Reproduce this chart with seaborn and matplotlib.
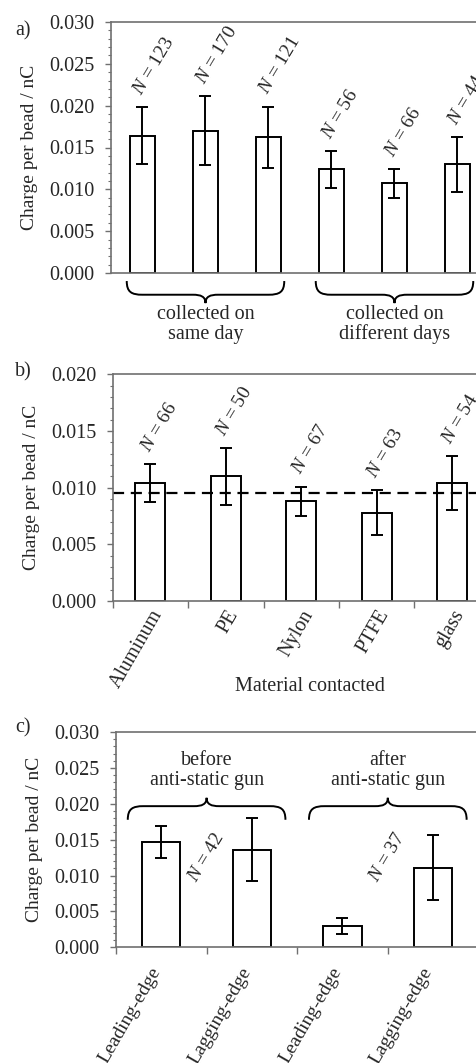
import numpy as np
import pandas as pd
import matplotlib
matplotlib.use("Agg")
import matplotlib.pyplot as plt
import seaborn as sns
from matplotlib.patches import PathPatch
from matplotlib.path import Path
from matplotlib.ticker import MultipleLocator, FormatStrFormatter
import matplotlib.transforms as mtransforms

# panel a
a_n = [123, 170, 121, 56, 66, 44]
a_mean = [0.0164, 0.0170, 0.0162, 0.0124, 0.0107, 0.0130]
a_err = [0.0034, 0.0041, 0.0037, 0.0022, 0.0017, 0.0033]
a_groups = ["collected on\nsame day", "collected on\ndifferent days"]

# panel b
b_materials = ["Aluminum", "PE", "Nylon", "PTFE", "glass"]
b_n = [66, 50, 67, 63, 54]
b_mean = [0.0104, 0.0110, 0.0088, 0.0078, 0.0104]
b_err = [0.0017, 0.0025, 0.0013, 0.0020, 0.0024]
b_ref = 0.0095

# panel c
c_labels = ["Leading-edge", "Lagging-edge", "Leading-edge", "Lagging-edge"]
c_mean = [0.0147, 0.0136, 0.0030, 0.0111]
c_err = [0.0022, 0.0044, 0.0011, 0.0045]
c_n = [42, 37]
c_groups = ["before\nanti-static gun", "after\nanti-static gun"]

sns.set_style("ticks")
plt.rcParams["font.family"] = ["Liberation Serif", "DejaVu Serif"]
plt.rcParams["mathtext.fontset"] = "custom"
plt.rcParams["mathtext.it"] = "Liberation Serif:italic"
plt.rcParams["mathtext.rm"] = "Liberation Serif"

W, H = 477, 1063
fig = plt.figure(figsize=(W / 100, H / 100), dpi=100)

spine_col = "#707070"
FS = 14.5
NFS = 14


def make_axes(left, top, bottom, n, spacing):
    return fig.add_axes([left / W, 1 - bottom / H, n * spacing / W, (bottom - top) / H])


def style(ax, ymax):
    ax.set_ylim(0, ymax)
    ax.yaxis.set_major_locator(MultipleLocator(0.005))
    ax.yaxis.set_minor_locator(MultipleLocator(0.001))
    ax.yaxis.set_major_formatter(FormatStrFormatter("%.3f"))
    ax.spines["right"].set_visible(False)
    for s in ["left", "bottom", "top"]:
        ax.spines[s].set_color(spine_col)
        ax.spines[s].set_linewidth(1.2)
    ax.tick_params(axis="y", which="major", length=4.3, width=1.0, color=spine_col,
                   labelsize=FS, pad=7.5)
    ax.tick_params(axis="y", which="minor", length=2.5, width=0.8, color=spine_col)
    ax.set_ylabel("Charge per bead / nC", fontsize=14, labelpad=8)
    ax.grid(False)


def bars(ax, keys, mean, err, width):
    df = pd.DataFrame({"key": keys, "mean": mean})
    sns.barplot(data=df, x="key", y="mean", color="white", edgecolor="black",
                linewidth=1.4, width=width, errorbar=None, saturation=1, ax=ax)
    ax.errorbar(np.arange(len(mean)), mean, yerr=err, fmt="none", ecolor="black",
                elinewidth=1.4, capsize=4.3, capthick=1.4)
    ax.set_xlabel("")


def n_labels(ax, ns, mean, err):
    for i, (n, m, e) in enumerate(zip(ns, mean, err)):
        ax.annotate(f"$N$ = {n}", xy=(i, m + e), xytext=(-1, 8), textcoords="offset points",
                    rotation=59, rotation_mode="anchor", ha="left", va="baseline",
                    fontsize=NFS, annotation_clip=False)


def brace(ax, x0, x1, y_end, y_tip, transform):
    uv = [(0, 0), (0, 0.5), (0.03, 0.62), (0.1, 0.62), (0.42, 0.62),
          (0.47, 0.62), (0.5, 0.7), (0.5, 1.0), (0.5, 0.7), (0.53, 0.62), (0.58, 0.62),
          (0.9, 0.62), (0.97, 0.62), (1, 0.5), (1, 0)]
    codes = [Path.MOVETO] + [Path.CURVE4] * 3 + [Path.LINETO] + [Path.CURVE4] * 6 + \
            [Path.LINETO] + [Path.CURVE4] * 3
    verts = [(x0 + u * (x1 - x0), y_end + v * (y_tip - y_end)) for u, v in uv]
    ax.add_patch(PathPatch(Path(verts, codes), fill=False, lw=1.4, color="black",
                           transform=transform, clip_on=False))


# ---- a ----
ax_a = make_axes(111, 22, 273, 6, 63)
bars(ax_a, [f"N{n}" for n in a_n], a_mean, a_err, 0.4)
ax_a.set_xlim(-0.5, 5.5)
style(ax_a, 0.030)
ax_a.tick_params(axis="x", bottom=False, labelbottom=False)
n_labels(ax_a, a_n, a_mean, a_err)
trans_a = mtransforms.blended_transform_factory(ax_a.transData, ax_a.transAxes)
for cx, txt in zip([1, 4], a_groups):
    brace(ax_a, cx - 1.25, cx + 1.25, -0.032, -0.12, trans_a)
    ax_a.text(cx, -0.205, txt, transform=trans_a, ha="center", va="center",
              fontsize=FS, linespacing=1.05)

# ---- b ----
ax_b = make_axes(112.7, 374.3, 601, 5, 75.4)
bars(ax_b, b_materials, b_mean, b_err, 0.4)
ax_b.set_xlim(-0.5, 4.5)
style(ax_b, 0.020)
ax_b.axhline(b_ref, color="black", lw=1.6, ls=(0, (5, 3)))
ax_b.set_xticks(range(len(b_materials)))
ax_b.set_xticklabels(b_materials, rotation=60, ha="right", rotation_mode="anchor")
ax_b.tick_params(axis="x", which="major", length=0, labelsize=FS, pad=4)
ax_b.set_xticks(np.arange(len(b_materials)) - 0.5, minor=True)
ax_b.tick_params(axis="x", which="minor", length=5, width=1.0, color=spine_col)
ax_b.text((310 - 112.7) / 377, -0.375, "Material contacted", transform=ax_b.transAxes,
          ha="center", va="center", fontsize=FS)
n_labels(ax_b, b_n, b_mean, b_err)

# ---- c ----
ax_c = make_axes(116, 732, 947.3, 4, 90.6)
bars(ax_c, ["bef_lead", "bef_lag", "aft_lead", "aft_lag"], c_mean, c_err, 0.42)
ax_c.set_xlim(-0.5, 3.5)
style(ax_c, 0.030)
ax_c.set_xticks(range(len(c_labels)))
ax_c.set_xticklabels(c_labels, rotation=60, ha="right", rotation_mode="anchor")
ax_c.tick_params(axis="x", which="major", length=0, labelsize=14, pad=10)
shift = mtransforms.ScaledTranslation(-0.12, -0.03, fig.dpi_scale_trans)
for lab in ax_c.get_xticklabels():
    lab.set_transform(lab.get_transform() + shift)
ax_c.set_xticks(np.arange(len(c_labels)) - 0.5, minor=True)
ax_c.tick_params(axis="x", which="minor", length=5, width=1.0, color=spine_col)
for cx, n, txt in zip([0.5, 2.5], c_n, c_groups):
    ax_c.text(cx, 0.0126, f"$N$ = {n}", rotation=59, ha="center", va="center", fontsize=NFS)
    brace(ax_c, cx - 0.87, cx + 0.87, 0.01777, 0.02083, ax_c.transData)
    ax_c.text(cx, 0.02467, txt, ha="center", va="center", fontsize=FS, linespacing=1.05)

for lbl, y in zip(["a)", "b)", "c)"], [31, 372, 728]):
    fig.text(15 / W, 1 - y / H, lbl, fontsize=FS, ha="left", va="center")

fig.savefig("out.png", dpi=100)
